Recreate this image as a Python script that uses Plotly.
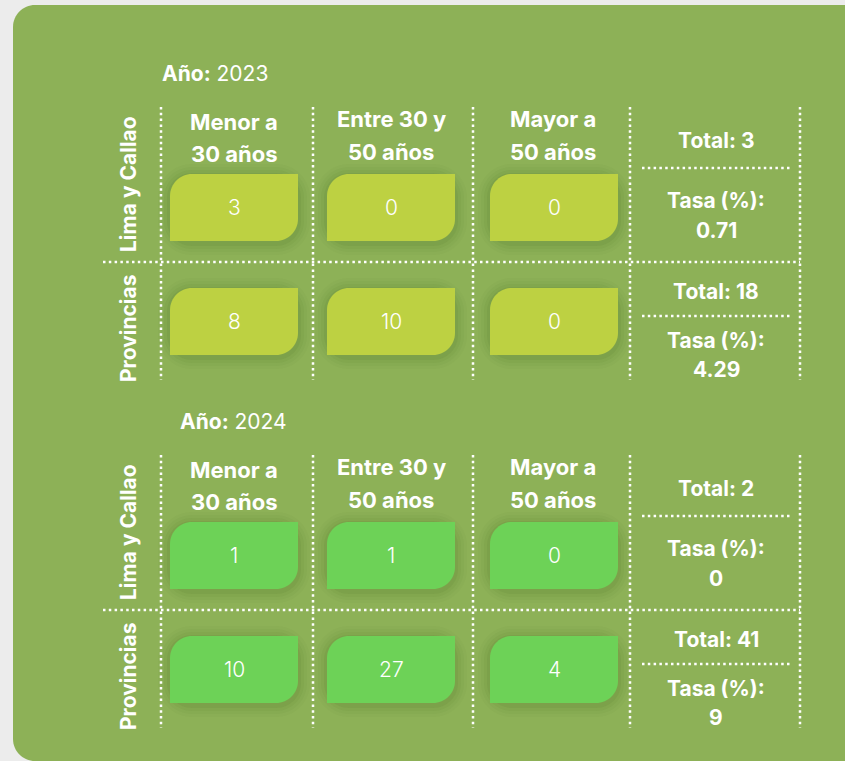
import plotly.graph_objects as go

# ---------------- data ----------------
years = ["2023", "2024"]
regions = ["Lima y Callao", "Provincias"]
age_groups = [["Menor a", "30 años"], ["Entre 30 y", "50 años"], ["Mayor a", "50 años"]]
values_2023 = [[3, 0, 0], [8, 10, 0]]
values_2024 = [[1, 1, 0], [10, 27, 4]]
totals_2023 = [3, 18]
totals_2024 = [2, 41]
tasa_2023 = ["0.71", "4.29"]
tasa_2024 = ["0", "9"]

values = [values_2023, values_2024]
totals = [totals_2023, totals_2024]
tasas = [tasa_2023, tasa_2024]

# ---------------- style / layout ----------------
W, H = 845, 761
BG = "#ececec"
PANEL = "#8db157"
BOX_COLORS = ["#bdd142", "#6dd257"]
FONT = "Inter"
WHITE = "#ffffff"

block_off = [0, 348]
year_x = [160, 178]
year_y = 73
vlines_x = [161, 313, 473, 630, 800]
vline_y = (107, 380)
hline_y = 262
hline_x = (103, 800)
inner_y = [168, 316]
inner_x = (642, 790)
col_cx = [234, 391, 553]
head_y1 = [122, 119, 119]
head_y2 = [154, 152, 152]
box_x = [(170, 298), (327, 455), (490, 618)]
box_y = [(174, 241), (288, 355)]
row_lab_x = 128
row_lab_y = [184, 328]
tot_cx = 716
tot_y = [140, 291]
tasa_y = [200, 340]
tasaval_y = [230, 369]

K = 0.5523


def box_path(x0, y0, x1, y1, r1, r2):
    return (
        f"M {x0 + r1},{y0} L {x1},{y0} L {x1},{y1 - r2} "
        f"C {x1},{y1 - r2 + K * r2} {x1 - r2 + K * r2},{y1} {x1 - r2},{y1} "
        f"L {x0},{y1} L {x0},{y0 + r1} "
        f"C {x0},{y0 + r1 - K * r1} {x0 + r1 - K * r1},{y0} {x0 + r1},{y0} Z"
    )


def rrect_path(x0, y0, x1, y1, r):
    return (
        f"M {x0 + r},{y0} L {x1 - r},{y0} C {x1 - r + K * r},{y0} {x1},{y0 + r - K * r} {x1},{y0 + r} "
        f"L {x1},{y1 - r} C {x1},{y1 - r + K * r} {x1 - r + K * r},{y1} {x1 - r},{y1} "
        f"L {x0 + r},{y1} C {x0 + r - K * r},{y1} {x0},{y1 - r + K * r} {x0},{y1 - r} "
        f"L {x0},{y0 + r} C {x0},{y0 + r - K * r} {x0 + r - K * r},{y0} {x0 + r},{y0} Z"
    )


shapes = []
annotations = []

# green panel
pr = 22
px0, py0, px1, py1 = 13, 5, 900, 761
shapes.append(dict(
    type="path", layer="below", xref="x", yref="y",
    path=(f"M {px0 + pr},{py0} L {px1},{py0} L {px1},{py1} L {px0 + pr},{py1} "
          f"C {px0 + pr - K * pr},{py1} {px0},{py1 - pr + K * pr} {px0},{py1 - pr} "
          f"L {px0},{py0 + pr} C {px0},{py0 + pr - K * pr} {px0 + pr - K * pr},{py0} {px0 + pr},{py0} Z"),
    fillcolor=PANEL, line=dict(width=0)))

dot = dict(color=WHITE, width=2.5, dash="2.5px,3.3px")


def ann(x, y, text, size, bold=True, xanchor="center", textangle=0, weight=None):
    font = dict(family=FONT, size=size, color=WHITE)
    if weight is not None:
        font["weight"] = weight
    annotations.append(dict(
        x=x, y=y, xref="x", yref="y", text=(f"<b>{text}</b>" if bold else text),
        showarrow=False, xanchor=xanchor, yanchor="middle", textangle=textangle,
        font=font))


for b, yr in enumerate(years):
    off = block_off[b]
    # year title
    ann(year_x[b], year_y + off, f"<b>Año:</b> {yr}", 21, bold=False, xanchor="left")
    # grid lines
    for x in vlines_x:
        shapes.append(dict(type="line", x0=x, x1=x, y0=vline_y[0] + off, y1=vline_y[1] + off,
                           xref="x", yref="y", line=dot))
    shapes.append(dict(type="line", x0=hline_x[0], x1=hline_x[1], y0=hline_y + off, y1=hline_y + off,
                       xref="x", yref="y", line=dot))
    for iy in inner_y:
        shapes.append(dict(type="line", x0=inner_x[0], x1=inner_x[1], y0=iy + off, y1=iy + off,
                           xref="x", yref="y", line=dot))
    # column headers
    for c, (l1, l2) in enumerate(age_groups):
        ann(col_cx[c], head_y1[c] + off, l1, 22)
        ann(col_cx[c], head_y2[c] + off, l2, 22)
    # rows
    for r, reg in enumerate(regions):
        ann(row_lab_x, row_lab_y[r] + off, reg, 21, textangle=-90)
        for c in range(len(age_groups)):
            x0, x1 = box_x[c]
            y0, y1 = box_y[r][0] + off, box_y[r][1] + off
            # soft shadow
            for s, op in [(12, 0.03), (9, 0.04), (6, 0.05), (3, 0.07)]:
                shapes.append(dict(type="path", layer="below", xref="x", yref="y",
                                   path=rrect_path(x0 - s, y0 - s + 2, x1 + s, y1 + s + 2, 22 + s),
                                   fillcolor="#3f5a1c", opacity=op, line=dict(width=0)))
            shapes.append(dict(type="path", layer="below", xref="x", yref="y",
                               path=box_path(x0, y0, x1, y1, 22, 22),
                               fillcolor=BOX_COLORS[b], line=dict(width=0)))
            ann((x0 + x1) / 2, (y0 + y1) / 2, str(values[b][r][c]), 21, bold=False, weight=300)
        ann(tot_cx, tot_y[r] + off, f"Total: {totals[b][r]}", 21)
        ann(tot_cx, tasa_y[r] + off, "Tasa (%):", 21)
        ann(tot_cx, tasaval_y[r] + off, tasas[b][r], 21)

fig = go.Figure()
fig.add_trace(go.Scatter(x=[0, W], y=[0, H], mode="markers", marker=dict(opacity=0),
                         hoverinfo="skip", showlegend=False))
fig.update_layout(
    width=W, height=H, margin=dict(l=0, r=0, t=0, b=0),
    paper_bgcolor=BG, plot_bgcolor="rgba(0,0,0,0)",
    xaxis=dict(range=[0, W], visible=False, fixedrange=True),
    yaxis=dict(range=[H, 0], visible=False, fixedrange=True),
    shapes=shapes, annotations=annotations, showlegend=False,
)
fig.write_html(
    "out.html",
    config={"displayModeBar": False},
    post_script="document.body.style.margin='0';document.body.style.background='#ececec';",
)
